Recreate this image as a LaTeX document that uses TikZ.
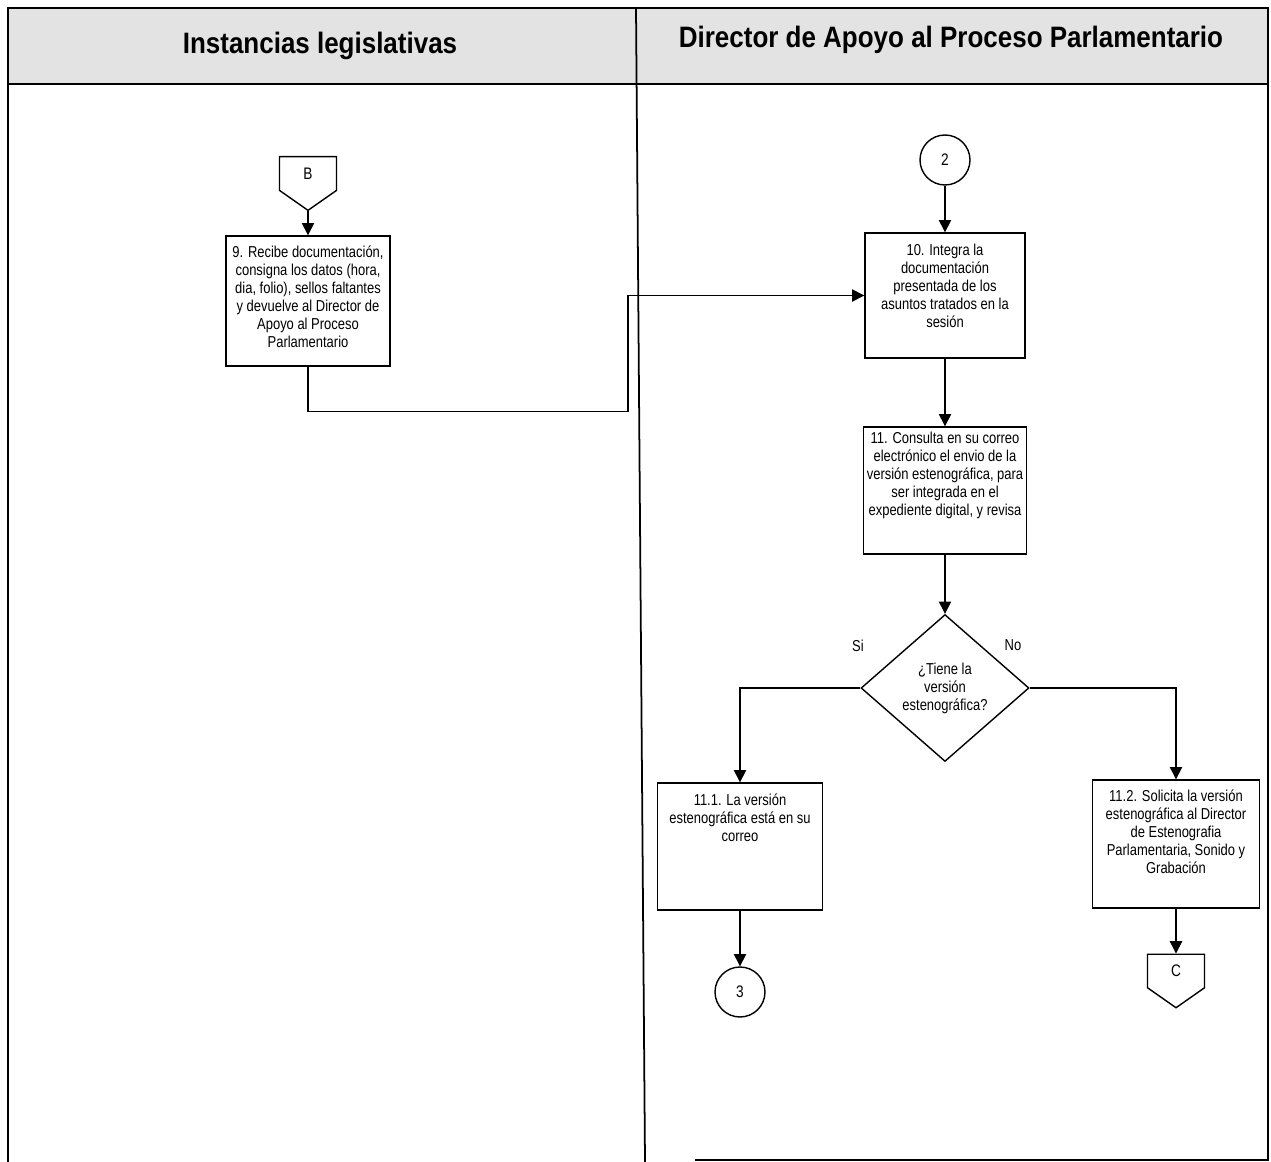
\documentclass[tikz,border=0pt]{standalone}
\usepackage{fontspec}
\setmainfont{Liberation Sans}
\newfontfamily\narrowfont[FakeStretch=0.82]{Liberation Sans}
\newfontfamily\headfont[FakeStretch=0.88]{Liberation Sans}
\usetikzlibrary{arrows.meta,shapes.geometric,shapes.symbols}

% text of a process box, hung from the top of the box
\newcommand{\steptext}[4]{\parbox[c][#2][t]{#1}{\centering\vspace*{#3}#4\par}}

\tikzset{
  stepbox/.style={draw, line width=0.8pt, inner sep=0pt,
    font=\narrowfont\fontsize{9}{10.2}\selectfont},
  decision/.style={draw, diamond, line width=0.8pt, inner sep=0pt, align=center,
    minimum width=3.36cm, minimum height=2.94cm,
    font=\narrowfont\fontsize{9}{10.2}\selectfont},
  onpage/.style={draw, circle, line width=0.8pt, minimum size=1cm, inner sep=0pt,
    font=\narrowfont\fontsize{9.5}{10.2}\selectfont},
  offpage/.style={draw, shape=signal, signal to=south, signal from=nowhere,
    signal pointer angle=110, line width=0.8pt, minimum width=1.14cm,
    minimum height=0.74cm, inner sep=0pt,
    font=\narrowfont\fontsize{9.5}{10.2}\selectfont},
  lanetitle/.style={font=\headfont\bfseries\fontsize{16.8}{18}\selectfont},
  answer/.style={font=\narrowfont\fontsize{9}{10.2}\selectfont},
  flow/.style={line width=0.8pt, -{Triangle[length=7pt,width=7pt]}}
}

\begin{document}
\begin{tikzpicture}[x=0.02cm, y=-0.02cm]
  \useasboundingbox (0,0) rectangle (1271,1162);

  % lanes
  \fill[gray!22] (8,8) rectangle (1268,84);
  \draw[line width=1pt] (8,1162) -- (8,8) -- (1268,8) -- (1268,1160) -- (695,1160);
  \draw[line width=1pt] (8,84) -- (1268,84);
  \draw[line width=1pt] (636,8) -- (645,1162);
  \node[lanetitle] (lane1) at (320,46) {Instancias legislativas};
  \node[lanetitle] (lane2) at (951,40) {Director de Apoyo al Proceso Parlamentario};

  % left lane
  \node[offpage] (B) at (308,173.5) {B};
  \node[stepbox] (s9) at (308,301) {\steptext{3.28cm}{2.6cm}{0.2cm}{9. Recibe documentación,\\
    consigna los datos (hora,\\ dia, folio), sellos faltantes\\ y devuelve al Director de\\
    Apoyo al Proceso\\ Parlamentario}};

  % right lane
  \node[onpage] (c2) at (945,160) {2};
  \node[stepbox] (s10) at (945,295.5) {\steptext{3.2cm}{2.5cm}{0.22cm}{10. Integra la\\
    documentación\\ presentada de los\\ asuntos tratados en la\\ sesión}};
  \node[stepbox] (s11) at (945,490.5) {\steptext{3.26cm}{2.54cm}{0.1cm}{11. Consulta en su correo\\
    electrónico el envio de la\\ versión estenográfica, para\\ ser integrada en el\\
    expediente digital, y revisa}};
  \node[decision] (d11) at (945,688) {¿Tiene la\\ versión\\ estenográfica?};
  \node[answer] (si) at (858,646) {Si};
  \node[answer] (no) at (1013,645) {No};
  \node[stepbox] (s111) at (740,846.5) {\steptext{3.3cm}{2.54cm}{0.22cm}{11.1. La versión\\
    estenográfica está en su\\ correo}};
  \node[stepbox] (s112) at (1176,844) {\steptext{3.34cm}{2.56cm}{0.2cm}{11.2. Solicita la versión\\
    estenográfica al Director\\ de Estenografia\\ Parlamentaria, Sonido y\\ Grabación}};
  \node[onpage] (c3) at (740,992) {3};
  \node[offpage] (C) at (1176,971) {C};

  % flow
  \draw[flow] (B.south) -- (s9.north);
  \draw[flow] (s9.south) |- ++(320,45) |- (s10.west);
  \draw[flow] (c2.south) -- (s10.north);
  \draw[flow] (s10.south) -- (s11.north);
  \draw[flow] (s11.south) -- (d11.north);
  \draw[flow] (d11.west) -| (s111.north);
  \draw[flow] (d11.east) -| (s112.north);
  \draw[flow] (s111.south) -- (c3.north);
  \draw[flow] (s112.south) -- (C.north);
\end{tikzpicture}
\end{document}
